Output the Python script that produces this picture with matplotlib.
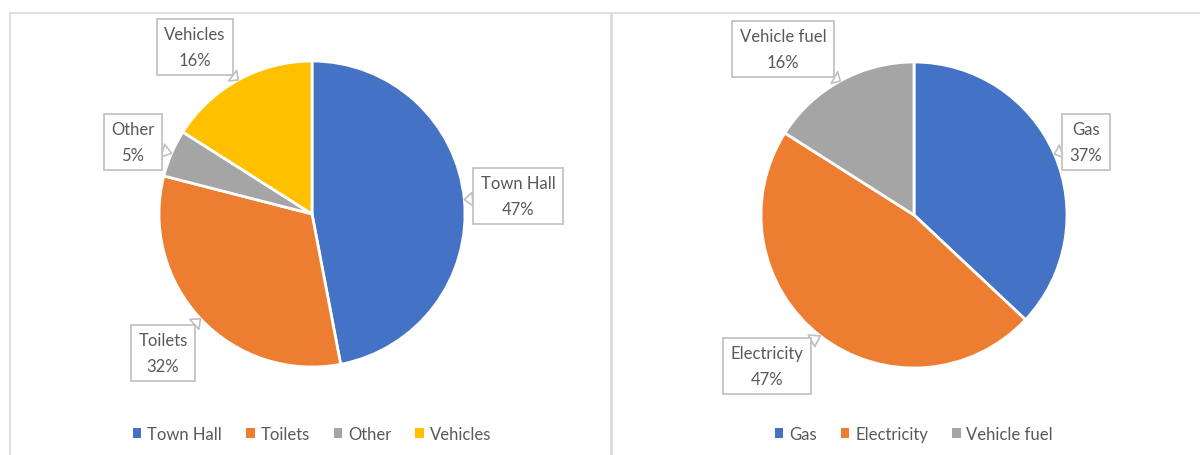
import numpy as np
import matplotlib
matplotlib.use("Agg")
import matplotlib.pyplot as plt
from matplotlib.patches import Patch, Rectangle

# Data (percent shares)
left_labels = ["Town Hall", "Toilets", "Other", "Vehicles"]
left_values = [47, 32, 5, 16]
left_colors = ["#4472C4", "#ED7D31", "#A5A5A5", "#FFC000"]

right_labels = ["Gas", "Electricity", "Vehicle fuel"]
right_values = [37, 47, 16]
right_colors = ["#4472C4", "#ED7D31", "#A5A5A5"]

W, H = 1200, 456
TEXT = "#595959"
BORDER = "#D9D9D9"
BOX_EDGE = "#BFBFBF"

plt.rcParams["font.family"] = ["Lato", "DejaVu Sans"]

fig = plt.figure(figsize=(12, 4.56), dpi=100)
ax = fig.add_axes([0, 0, 1, 1])


def Y(y):
    # pixel row from top -> data y
    return H - y


# panel frames
ax.add_patch(Rectangle((10, Y(470)), 601, 456, fill=False, ec=BORDER, lw=1.2))
ax.add_patch(Rectangle((612, Y(470)), 620, 456, fill=False, ec=BORDER, lw=1.2))


def draw_pie(values, labels, colors, center, radius, box_pos, legend_y):
    cx, cy = center[0], Y(center[1])
    wedges, _ = ax.pie(values, colors=colors, startangle=90, counterclock=False,
                       center=(cx, cy), radius=radius,
                       wedgeprops=dict(edgecolor="white", linewidth=2))
    total = sum(values)
    for w, lab, v, (bx, by) in zip(wedges, labels, values, box_pos):
        mid = np.deg2rad((w.theta1 + w.theta2) / 2)
        tip = (cx + radius * np.cos(mid), cy + radius * np.sin(mid))
        ax.annotate(f"{lab}\n{v / total * 100:.0f}%", xy=tip, xytext=(bx, Y(by)),
                    ha="center", va="center", fontsize=12, color=TEXT,
                    linespacing=1.7,
                    bbox=dict(boxstyle="square,pad=0.45", fc="white", ec=BOX_EDGE, lw=1.2),
                    arrowprops=dict(arrowstyle="wedge,tail_width=0.8,shrink_factor=0.5",
                                    fc="white", ec=BOX_EDGE, lw=1.2,
                                    shrinkA=0, shrinkB=0))
    handles = [Patch(facecolor=c) for c in colors]
    fig.legend(handles, labels, loc="center", bbox_to_anchor=(center[0], Y(legend_y)),
               bbox_transform=ax.transData, ncol=len(labels), frameon=False,
               fontsize=12, labelcolor=TEXT, handlelength=0.5, handleheight=0.5,
               handletextpad=0.35, columnspacing=1.45)


draw_pie(left_values, left_labels, left_colors, (312, 215), 153,
         [(518, 197), (163, 354), (133, 143), (195, 48)], 435)
draw_pie(right_values, right_labels, right_colors, (914, 216), 153,
         [(1086, 143), (767, 367), (783, 50)], 435)

# pie() resets the limits, so fix the pixel frame afterwards
ax.set_xlim(0, W)
ax.set_ylim(0, H)
ax.set_aspect("equal")
ax.axis("off")

fig.savefig("out.png", dpi=100, facecolor="white")
